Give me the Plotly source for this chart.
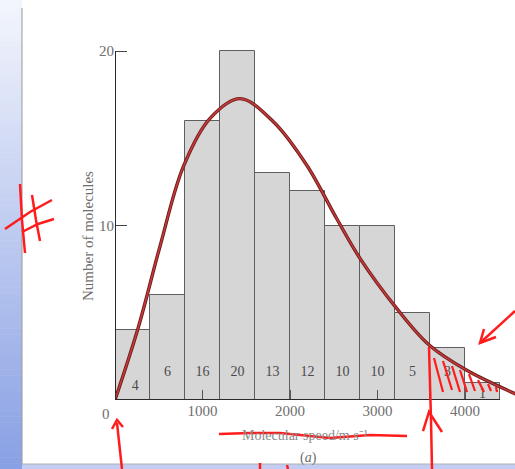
import plotly.graph_objects as go

# ---------------- data ----------------
bin_left = [0, 400, 800, 1200, 1600, 2000, 2400, 2800, 3200, 3600, 4000]
bin_width = 400
counts = [4, 6, 16, 20, 13, 12, 10, 10, 5, 3, 1]
count_labels = ["4", "6", "16", "20", "13", "12", "10", "10", "5", "3", "1"]

curve_speed = [0, 267, 514, 781, 1086, 1429, 1810, 2190, 2533, 2800, 3219, 3590, 4020, 4600]
curve_count = [0, 4.17, 8.8, 13.37, 16.14, 17.27, 15.95, 13.47, 10.4, 8.12, 5.25, 3.15, 1.7, 0.3]

x_ticks = [0, 1000, 2000, 3000, 4000]
y_ticks = [10, 20]

# ---------------- layout geometry ----------------
W, H = 515, 469
L, R, T, B = 115, 515, 44, 400   # plot area in pixels


def px(x):
    return (x - L) / (R - L)


def py(y):
    return (B - y) / (B - T)


FONT = "Liberation Serif"
GREY = "#6e6e6e"
RED = "#ff1c1c"

fig = go.Figure()

centers = [b + bin_width / 2 for b in bin_left]
fig.add_trace(go.Bar(
    x=centers, y=counts, width=bin_width,
    marker=dict(color="#d6d6d6", line=dict(color="#5f5f5f", width=1)),
    hoverinfo="skip", showlegend=False,
))

# count labels inside bars (short first/last bars have them lower)
label_x = [c for c in centers]
label_x[0] += 30
label_y = [1.55] * len(centers)
label_y[0] = 0.8
label_y[-1] = 0.3
fig.add_trace(go.Scatter(
    x=label_x, y=label_y, text=count_labels, mode="text",
    textfont=dict(family=FONT, size=14, color="#4a4a4a"),
    showlegend=False, hoverinfo="skip",
))

# red curve (dark rim + red core)
fig.add_trace(go.Scatter(
    x=curve_speed, y=curve_count, mode="lines",
    line=dict(color="#6e1b1b", width=3.4, shape="spline", smoothing=1.0),
    showlegend=False, hoverinfo="skip",
))
fig.add_trace(go.Scatter(
    x=curve_speed, y=curve_count, mode="lines",
    line=dict(color="#c23a3a", width=1.6, shape="spline", smoothing=1.0),
    showlegend=False, hoverinfo="skip",
))

shapes = []

# axis lines
shapes.append(dict(type="line", xref="x", yref="y", x0=0, x1=0, y0=0, y1=20,
                   line=dict(color="#2a2a2a", width=2), layer="above"))
shapes.append(dict(type="line", xref="x", yref="y", x0=0, x1=bin_left[-1] + bin_width,
                   y0=0, y1=0, line=dict(color="#2a2a2a", width=2), layer="above"))

# blue screenshot frame: left gradient strip
n_bands = 80
top_c = (244, 246, 253)
bot_c = (136, 160, 228)
for i in range(n_bands):
    y0 = H * i / n_bands
    y1 = H * (i + 1) / n_bands
    f = (i + 0.5) / n_bands
    c = tuple(int(top_c[k] + (bot_c[k] - top_c[k]) * f) for k in range(3))
    shapes.append(dict(type="rect", xref="paper", yref="paper",
                       x0=px(0), x1=px(22), y0=py(y1 + 0.5), y1=py(y0),
                       fillcolor="rgb(%d,%d,%d)" % c, line=dict(width=0), layer="above"))
# bottom strip
shapes.append(dict(type="rect", xref="paper", yref="paper",
                   x0=px(22), x1=px(515), y0=py(469), y1=py(464),
                   fillcolor="#c3cdf3", line=dict(width=0), layer="above"))
shapes.append(dict(type="line", xref="paper", yref="paper",
                   x0=px(22), x1=px(22), y0=py(464), y1=py(8),
                   line=dict(color="#9a9a9a", width=1), layer="above"))
shapes.append(dict(type="line", xref="paper", yref="paper",
                   x0=px(22), x1=px(515), y0=py(464), y1=py(464),
                   line=dict(color="#b0b0b0", width=1), layer="above"))


# red handwriting
def stroke(pts, width=2.5):
    d = "M " + " L ".join("%.4f,%.4f" % (px(x), py(y)) for x, y in pts)
    shapes.append(dict(type="path", xref="paper", yref="paper", path=d,
                       line=dict(color=RED, width=width), layer="above"))


# '#'
stroke([(20, 184), (22, 220), (25, 253)])
stroke([(32, 195), (36, 220), (40, 241)])
stroke([(5, 229), (30, 212), (52, 200)])
stroke([(22, 232), (38, 224), (54, 219)])
# arrow to origin
stroke([(122, 469), (117, 423)])
stroke([(112, 429), (117, 420), (123, 427)])
# strike-through under x title
stroke([(219, 434), (250, 433), (280, 433), (330, 438), (370, 435), (407, 436)])
# vertical arrow near 3600
stroke([(432, 469), (431, 420), (429, 347)])
stroke([(423, 431), (429, 412), (442, 432)])
# arrow from the right
stroke([(515, 311), (480, 343)])
stroke([(496, 337), (480, 343), (484, 329)])
# hatching
for x0, y0, x1, y1 in [(434, 358, 443, 392), (443, 361, 452, 390), (452, 366, 460, 392),
                       (460, 370, 467, 392), (469, 374, 475, 391), (478, 380, 484, 392),
                       (488, 384, 491, 391), (496, 387, 497, 392)]:
    stroke([(x0, y0), (x1, y1)], width=2.2)
# small marks at bottom
stroke([(260, 463), (260, 469)])
stroke([(287, 465), (288, 469)])

annotations = [
    dict(text="Number of molecules", xref="paper", yref="paper",
         x=px(88), y=py(236), textangle=-90, showarrow=False,
         xanchor="center", yanchor="middle",
         font=dict(family=FONT, size=15, color=GREY)),
    dict(text="0", xref="paper", yref="paper",
         x=px(106), y=py(414), showarrow=False,
         xanchor="center", yanchor="middle",
         font=dict(family=FONT, size=15, color=GREY)),
    dict(text="Molecular speed/m s⁻¹", xref="paper", yref="paper",
         x=px(305), y=py(435), showarrow=False,
         xanchor="center", yanchor="middle",
         font=dict(family=FONT, size=14, color="#8a8a8a")),
    dict(text="(<i>a</i>)", xref="paper", yref="paper",
         x=px(308), y=py(458), showarrow=False,
         xanchor="center", yanchor="middle",
         font=dict(family=FONT, size=14, color=GREY)),
]

fig.update_layout(
    width=W, height=H,
    margin=dict(l=L, r=W - R, t=T, b=H - B, pad=0),
    paper_bgcolor="white", plot_bgcolor="white",
    bargap=0, showlegend=False,
    shapes=shapes, annotations=annotations,
    xaxis=dict(range=[0, (R - L) / 87.5 * 1000], tickvals=x_ticks,
               ticktext=[""] + [str(v) for v in x_ticks[1:]],
               ticks="inside", ticklen=10, tickcolor="#555", tickwidth=1,
               showgrid=False, zeroline=False, showline=False,
               tickfont=dict(family=FONT, size=15, color=GREY)),
    yaxis=dict(range=[0, (B - T) / 17.45], tickvals=y_ticks,
               ticktext=[str(v) for v in y_ticks],
               ticks="inside", ticklen=12, tickcolor="#444", tickwidth=1.2,
               showgrid=False, zeroline=False, showline=False,
               tickfont=dict(family=FONT, size=15, color=GREY)),
)

fig.write_html("out.html")
